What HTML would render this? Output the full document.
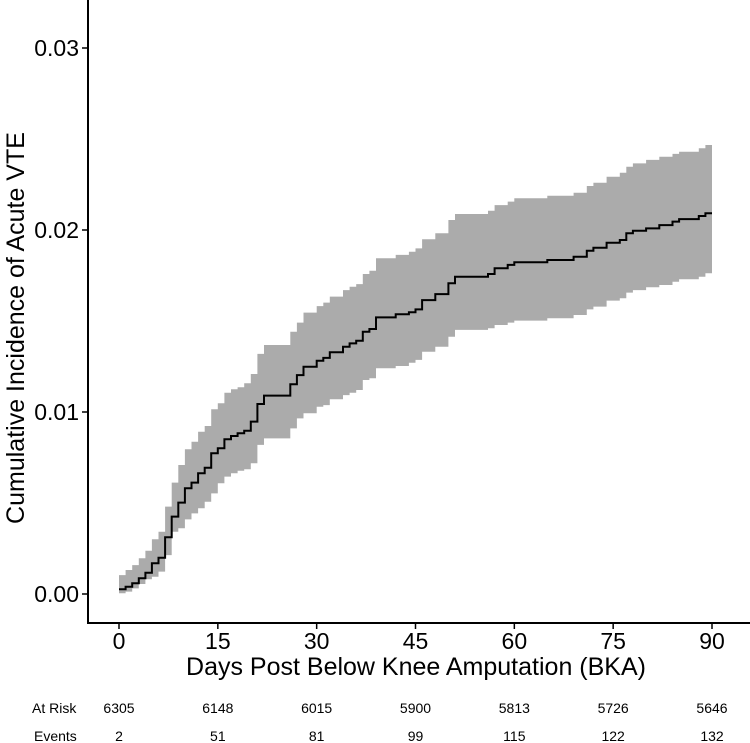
<!DOCTYPE html>
<html><head><meta charset="utf-8"><style>
html,body{margin:0;padding:0;background:#fff;}
svg{display:block;font-family:"Liberation Sans",sans-serif;}
</style></head><body>
<svg id="chart" width="750" height="743" viewBox="0 0 750 743"></svg>
<script>
const days=[0,1,2,3,4,5,6,7,8,9,10,11,12,13,14,15,16,17,18,19,20,21,22,26,27,28,30,31,32,34,35,36,37,38,39,42,44,45,46,48,50,51,56,57,59,60,65,69,71,72,74,76,77,78,80,82,84,85,88,89];
const estimate=[0.00026,0.00040,0.00059,0.00086,0.00117,0.00169,0.00199,0.00312,0.00425,0.00502,0.00581,0.00612,0.00663,0.00694,0.00773,0.00801,0.00850,0.00868,0.00883,0.00897,0.00947,0.01044,0.01090,0.01152,0.01203,0.01249,0.01282,0.01297,0.01328,0.01359,0.01377,0.01392,0.01441,0.01456,0.01520,0.01537,0.01548,0.01564,0.01615,0.01648,0.01707,0.01743,0.01758,0.01790,0.01808,0.01823,0.01835,0.01853,0.01886,0.01903,0.01930,0.01945,0.01982,0.01996,0.02009,0.02027,0.02046,0.02060,0.02077,0.02092];
const upper=[0.00104,0.00132,0.00159,0.00196,0.00238,0.00301,0.00342,0.00480,0.00612,0.00709,0.00795,0.00837,0.00892,0.00923,0.01015,0.01048,0.01106,0.01125,0.01136,0.01158,0.01209,0.01319,0.01368,0.01441,0.01491,0.01546,0.01582,0.01601,0.01634,0.01670,0.01688,0.01703,0.01758,0.01776,0.01845,0.01863,0.01881,0.01899,0.01949,0.01982,0.02055,0.02088,0.02106,0.02137,0.02156,0.02174,0.02188,0.02205,0.02242,0.02260,0.02293,0.02315,0.02348,0.02366,0.02385,0.02403,0.02418,0.02430,0.02449,0.02467];
const lower=[0.00004,0.00013,0.00031,0.00055,0.00081,0.00095,0.00123,0.00214,0.00342,0.00361,0.00410,0.00443,0.00471,0.00507,0.00553,0.00608,0.00645,0.00663,0.00677,0.00685,0.00718,0.00819,0.00855,0.00910,0.00965,0.00993,0.01029,0.01038,0.01070,0.01093,0.01106,0.01121,0.01176,0.01185,0.01240,0.01253,0.01271,0.01286,0.01331,0.01359,0.01414,0.01451,0.01460,0.01478,0.01491,0.01502,0.01515,0.01533,0.01564,0.01579,0.01612,0.01625,0.01656,0.01670,0.01685,0.01698,0.01716,0.01729,0.01743,0.01762];
const endDay=90;
const xTicks=[0,15,30,45,60,75,90];
const yTicks=[0,0.01,0.02,0.03];
const yTickLabels=["0.00","0.01","0.02","0.03"];
const atRisk=["6305","6148","6015","5900","5813","5726","5646"];
const events=["2","51","81","99","115","122","132"];

const NS="http://www.w3.org/2000/svg";
const svg=document.getElementById('chart');
const X=d=>119+d*(712-119)/90;
const Y=v=>594-v*18200;
function mk(tag,attrs,parent){const e=document.createElementNS(NS,tag);for(const k in attrs)e.setAttribute(k,attrs[k]);(parent||svg).appendChild(e);return e;}

let topPts=[],botPts=[];
for(let i=0;i<days.length;i++){
  const x0=X(days[i]),x1=X(i+1<days.length?days[i+1]:endDay);
  topPts.push([x0,Y(upper[i])],[x1,Y(upper[i])]);
  botPts.push([x0,Y(lower[i])],[x1,Y(lower[i])]);
}
const pts=topPts.concat(botPts.slice().reverse()).map(p=>p[0].toFixed(1)+','+p[1].toFixed(1)).join(' ');
const band=mk('polygon',{points:pts,fill:'#ababab',stroke:'none'});



let pathD='';
for(let i=0;i<days.length;i++){
  const x0=X(days[i]),x1=X(i+1<days.length?days[i+1]:endDay),y=Y(estimate[i]);
  pathD+=(i===0?'M':'L')+x0.toFixed(1)+','+y.toFixed(1)+'L'+x1.toFixed(1)+','+y.toFixed(1);
}
const line=mk('path',{d:pathD,fill:'none',stroke:'#000','stroke-width':2});



const ya=mk('line',{x1:88,y1:0,x2:88,y2:624,stroke:'#000','stroke-width':2});


const xa=mk('line',{x1:87,y1:623,x2:750,y2:623,stroke:'#000','stroke-width':2});



yTicks.forEach((v,i)=>{
  const t=mk('line',{x1:82,y1:Y(v),x2:88,y2:Y(v),stroke:'#000','stroke-width':1.5});
  
  
  const l=mk('text',{x:79,y:Y(v)+8,'text-anchor':'end','font-size':23,fill:'#000'});
  l.textContent=yTickLabels[i];
  
  
});
xTicks.forEach((v,i)=>{
  const t=mk('line',{x1:X(v),y1:623,x2:X(v),y2:629,stroke:'#000','stroke-width':1.5});
  
  
  const l=mk('text',{x:X(v),y:649,'text-anchor':'middle','font-size':23,fill:'#000'});
  l.textContent=String(v);
  
  
  const r=mk('text',{x:X(v),y:713,'text-anchor':'middle','font-size':14,fill:'#000'});
  r.textContent=atRisk[i];
  
  
  const e=mk('text',{x:X(v),y:741,'text-anchor':'middle','font-size':14,fill:'#000'});
  e.textContent=events[i];
  
  
});
</script>
<script>
(function(){
const svg=document.getElementById('chart');
const NS="http://www.w3.org/2000/svg";
function t(txt,attrs){const e=document.createElementNS(NS,'text');for(const k in attrs)e.setAttribute(k,attrs[k]);e.textContent=txt;svg.appendChild(e);return e;}
const yt=t('Cumulative Incidence of Acute VTE',{x:0,y:0,transform:'translate(24,328) rotate(-90)','text-anchor':'middle','font-size':25,fill:'#000'});


const xt=t('Days Post Below Knee Amputation (BKA)',{x:416,y:675,'text-anchor':'middle','font-size':25,fill:'#000'});


const a=t('At Risk',{x:32,y:713,'font-size':14,fill:'#000'});


const b=t('Events',{x:34,y:741,'font-size':14,fill:'#000'});


})();
</script>
</body></html>
